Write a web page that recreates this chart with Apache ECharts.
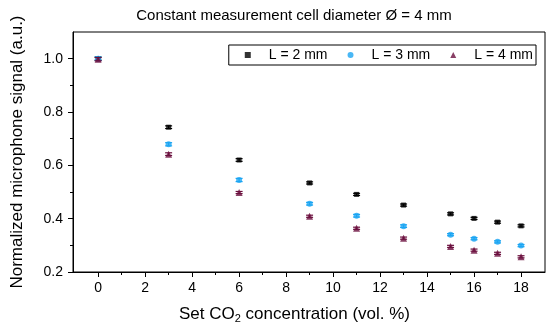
<!DOCTYPE html>
<html><head><meta charset="utf-8">
<script src="https://cdn.jsdelivr.net/npm/echarts@6/dist/echarts.min.js"></script>
<style>html,body{margin:0;padding:0;background:#fff}#c{width:550px;height:332px}</style>
</head><body><div id="c"></div>
<script>
var concentrations = [0, 3, 6, 9, 11, 13, 15, 16, 17, 18];
var seriesNames = ['L = 2 mm', 'L = 3 mm', 'L = 4 mm'];
var valuesL2 = [1.000, 0.743, 0.620, 0.534, 0.491, 0.451, 0.418, 0.401, 0.387, 0.373];
var valuesL3 = [1.000, 0.679, 0.545, 0.456, 0.411, 0.372, 0.340, 0.325, 0.313, 0.299];
var valuesL4 = [0.998, 0.642, 0.498, 0.409, 0.364, 0.327, 0.296, 0.282, 0.270, 0.257];
var errL2 = [0.006, 0.005, 0.005, 0.004, 0.004, 0.004, 0.004, 0.004, 0.004, 0.004];
var errL3 = [0.006, 0.006, 0.006, 0.005, 0.005, 0.005, 0.004, 0.004, 0.004, 0.004];
var errL4 = [0.006, 0.005, 0.004, 0.004, 0.004, 0.004, 0.004, 0.004, 0.004, 0.004];
var xTickLabels = [0, 2, 4, 6, 8, 10, 12, 14, 16, 18];
var xMinorTicks = [1, 3, 5, 7, 9, 11, 13, 15, 17];
var yTickLabels = [0.2, 0.4, 0.6, 0.8, 1.0];
var yMinorTicks = [0.3, 0.5, 0.7, 0.9];

var colors = ['#000000', '#1ba5f2', '#6b0f3e'];
var symbols = ['rect', 'circle', 'triangle'];
var sizes = [5, 6, 7];
var allVals = [valuesL2, valuesL3, valuesL4];
var allErr = [errL2, errL3, errL4];
var FONT = 'Liberation Sans, Arial, sans-serif';
var X_MIN = -1.07, X_MAX = 19.02;

var chart = echarts.init(document.getElementById('c'), null, {renderer: 'canvas'});

function pairs(vals) { return concentrations.map(function (x, i) { return [x, vals[i]]; }); }
function errData(vals, errs) { return concentrations.map(function (x, i) { return [x, vals[i], errs[i]]; }); }

var series = [];
for (var s = 0; s < 3; s++) {
  (function (s) {
    series.push({
      type: 'custom', name: seriesNames[s] + ' err', xAxisIndex: 0, yAxisIndex: 0,
      data: errData(allVals[s], allErr[s]), z: 2 + s * 2,
      renderItem: function (params, api) {
        var x = api.value(0), y = api.value(1), e = api.value(2);
        var top = api.coord([x, y + e]), bot = api.coord([x, y - e]);
        var hw = 3.5;
        var st = {stroke: colors[s], lineWidth: 1.2};
        return {type: 'group', children: [
          {type: 'line', shape: {x1: top[0], y1: top[1], x2: bot[0], y2: bot[1]}, style: st},
          {type: 'line', shape: {x1: top[0] - hw, y1: top[1], x2: top[0] + hw, y2: top[1]}, style: st},
          {type: 'line', shape: {x1: bot[0] - hw, y1: bot[1], x2: bot[0] + hw, y2: bot[1]}, style: st}
        ]};
      },
      silent: true
    });
    series.push({
      type: 'scatter', name: seriesNames[s], xAxisIndex: 0, yAxisIndex: 0,
      data: pairs(allVals[s]), symbol: symbols[s], symbolSize: sizes[s],
      itemStyle: {color: colors[s]}, z: 3 + s * 2
    });
  })(s);
}

var option = {
  animation: false,
  backgroundColor: '#fff',
  title: {
    text: 'Constant measurement cell diameter Ø = 4 mm',
    left: 289, top: 3, textAlign: 'center',
    textStyle: {fontFamily: FONT, fontSize: 15, fontWeight: 'normal', color: '#000'}
  },
  legend: {
    data: seriesNames.map(function (n, i) { return {name: n, icon: symbols[i]}; }),
    right: 14, top: 45,
    orient: 'horizontal',
    itemWidth: 6, itemHeight: 6, itemGap: 20,
    padding: [3, 3, 3, 16],
    borderColor: '#000', borderWidth: 1,
    textStyle: {fontFamily: FONT, fontSize: 14, color: '#000', padding: [0, 0, 0, 13]}
  },
  grid: {left: 73, right: 5, top: 32, bottom: 60, show: true, borderColor: '#000', borderWidth: 1, backgroundColor: 'transparent'},
  xAxis: [{
    type: 'value', min: X_MIN, max: X_MAX, position: 'bottom',
    name: 'Set CO{sub|2} concentration (vol. %)', nameLocation: 'middle', nameGap: 32,
    nameTextStyle: {fontFamily: FONT, fontSize: 17, color: '#000', padding: [0, 29, 0, 0],
      rich: {sub: {fontFamily: FONT, fontSize: 11, color: '#000', verticalAlign: 'bottom', padding: [9, 0, 0, 0]}}},
    axisLine: {show: true, onZero: false, lineStyle: {color: '#000', width: 1}},
    axisTick: {show: true, inside: false, length: 5, customValues: xTickLabels, lineStyle: {color: '#000'}},
    axisLabel: {customValues: xTickLabels, margin: 9, fontFamily: FONT, fontSize: 14, color: '#000'},
    splitLine: {show: false}
  }, {
    type: 'value', min: X_MIN, max: X_MAX, position: 'bottom',
    axisLine: {show: false, onZero: false},
    axisTick: {show: true, inside: false, length: 3, customValues: xMinorTicks, lineStyle: {color: '#000'}},
    axisLabel: {show: false}, splitLine: {show: false}
  }],
  yAxis: [{
    type: 'value', min: 0.2, max: 1.1, position: 'left',
    name: 'Normalized microphone signal (a.u.)', nameLocation: 'middle', nameGap: 47,
    nameTextStyle: {fontFamily: FONT, fontSize: 17, color: '#000'},
    axisLine: {show: true, onZero: false, lineStyle: {color: '#000', width: 1}},
    axisTick: {show: true, inside: false, length: 5, customValues: yTickLabels, lineStyle: {color: '#000'}},
    axisLabel: {customValues: yTickLabels, margin: 10, fontFamily: FONT, fontSize: 14, color: '#000',
      formatter: function (v) { return v.toFixed(1); }},
    splitLine: {show: false}
  }, {
    type: 'value', min: 0.2, max: 1.1, position: 'left',
    axisLine: {show: false, onZero: false},
    axisTick: {show: true, inside: false, length: 3, customValues: yMinorTicks, lineStyle: {color: '#000'}},
    axisLabel: {show: false}, splitLine: {show: false}
  }],
  series: series
};
chart.setOption(option);
</script></body></html>
